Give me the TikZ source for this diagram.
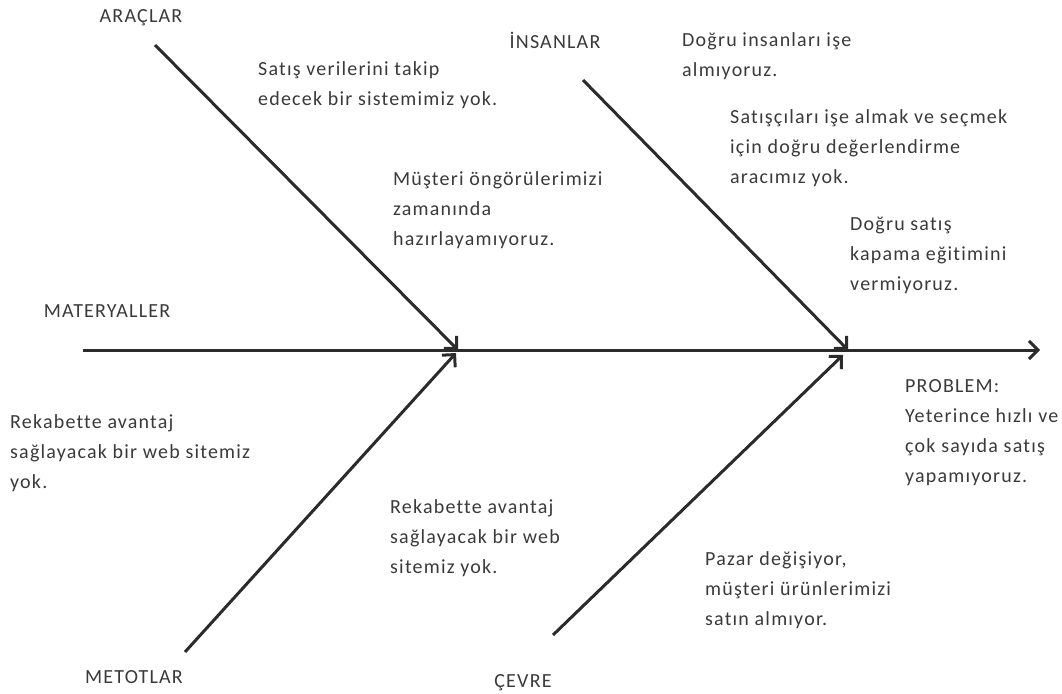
\documentclass[tikz,border=0pt]{standalone}
\usepackage{fontspec}
\setmainfont{Carlito}[LetterSpace=6, Ligatures=NoCommon]
\usetikzlibrary{arrows.meta}
\definecolor{ink}{HTML}{2B2B2B}
\definecolor{txt}{HTML}{3A3A3A}
\tikzset{
  bone/.style={draw=ink, line width=3pt, -{Straight Barb[length=9pt,width=18pt,line width=3pt]}},
  cat/.style={text=txt, inner sep=0pt, font=\fontsize{20}{30}\selectfont},
  cause/.style={text=txt, inner sep=0pt, anchor=base west, align=left, font=\fontsize{20}{30}\selectfont},
}
\begin{document}
\begin{tikzpicture}[x=1pt,y=-1pt]
\useasboundingbox (0,0) rectangle (1062,693);
% spine and junctions
\coordinate (tail) at (83,350);
\coordinate (head) at (1040,350);
\coordinate (j1) at (458,350);
\coordinate (j2) at (848,350);
\coordinate (j3) at (456,353);
\coordinate (j4) at (843,355);
% bone starts
\coordinate (a0) at (155,45);
\coordinate (i0) at (583,80);
\coordinate (m0) at (185,652);
\coordinate (c0) at (553,635);
\draw[bone] (tail) -- (head);
\draw[bone] (a0) -- (j1);
\draw[bone] (i0) -- (j2);
\draw[bone] (m0) -- (j3);
\draw[bone] (c0) -- (j4);
% category labels
\node[cat] (araclar) at (141,18) {ARAÇLAR};
\node[cat] (insanlar) at (555,40) {İNSANLAR};
\node[cat] (materyaller) at (107,311) {MATERYALLER};
\node[cat] (metotlar) at (134,677) {METOTLAR};
\node[cat] (cevre) at (523,683) {ÇEVRE};
% causes (anchored at the baseline of the last line)
\node[cause] (t1) at (258,105) {Satış verilerini takip\\edecek bir sistemimiz yok.};
\node[cause] (t2) at (682,77) {Doğru insanları işe\\almıyoruz.};
\node[cause] (t3) at (730,183) {Satışçıları işe almak ve seçmek\\için doğru değerlendirme\\aracımız yok.};
\node[cause] (t4) at (393,245) {Müşteri öngörülerimizi\\zamanında\\hazırlayamıyoruz.};
\node[cause] (t5) at (850,290) {Doğru satış\\kapama eğitimini\\vermiyoruz.};
\node[cause] (t6) at (905,482) {PROBLEM:\\Yeterince hızlı ve\\çok sayıda satış\\yapamıyoruz.};
\node[cause] (t7) at (10,488) {Rekabette avantaj\\sağlayacak bir web sitemiz\\yok.};
\node[cause] (t8) at (390,573) {Rekabette avantaj\\sağlayacak bir web\\sitemiz yok.};
\node[cause] (t9) at (705,625) {Pazar değişiyor,\\müşteri ürünlerimizi\\satın almıyor.};
\end{tikzpicture}
\end{document}
